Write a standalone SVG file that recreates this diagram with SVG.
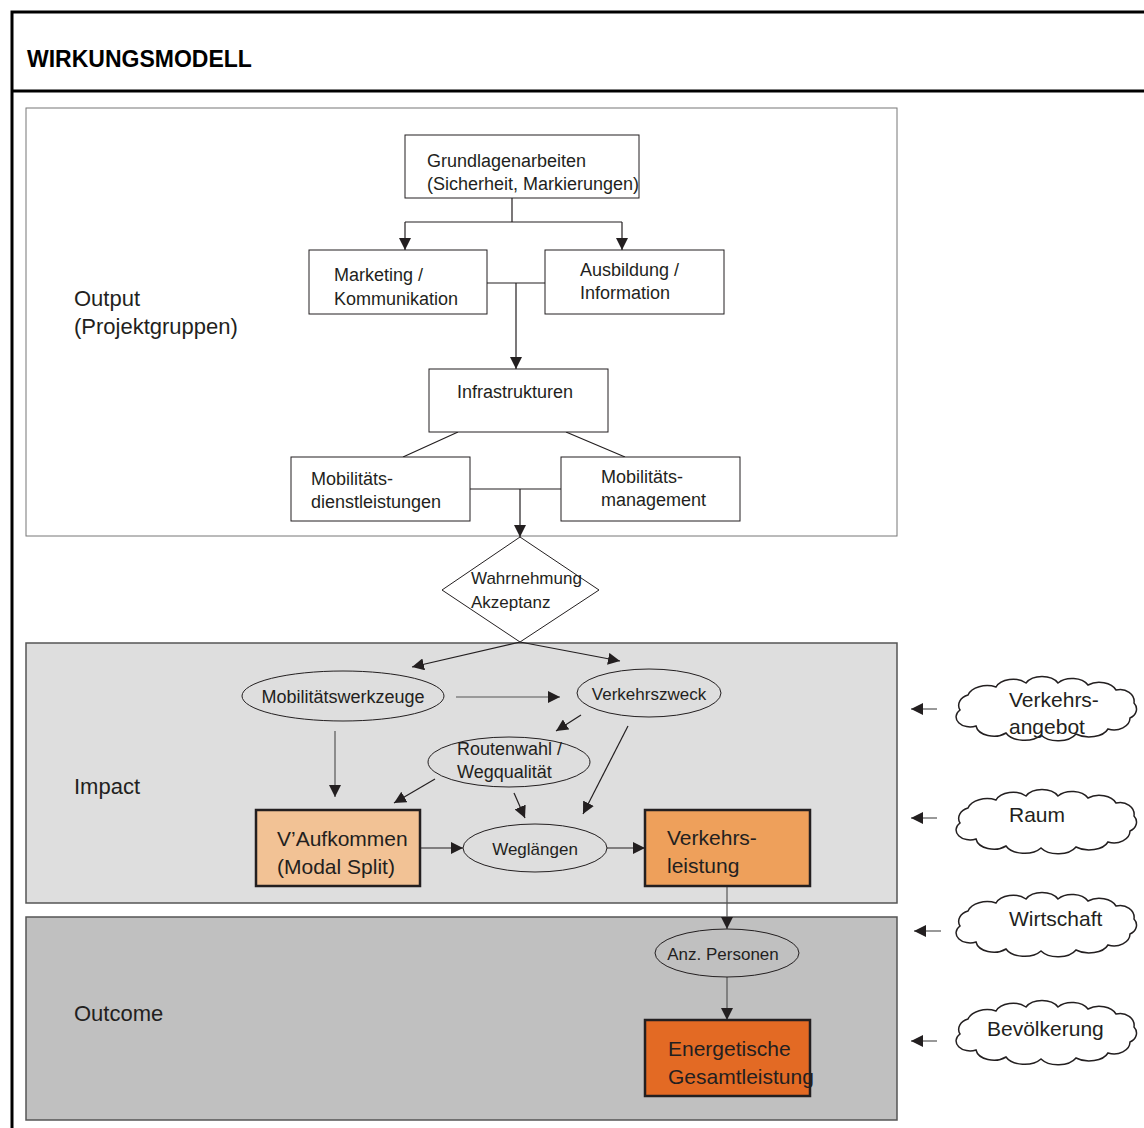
<svg xmlns="http://www.w3.org/2000/svg" width="1144" height="1128" viewBox="0 0 1144 1128">
<style>
text{font-family:"Liberation Sans",Arial,sans-serif;fill:#231f20}
.t17{font-size:17px}
.t18{font-size:18px}
.t21{font-size:21px}
.lbl{font-size:22px}
.box{fill:#fff;stroke:#231f20;stroke-width:1}
.ell{fill:none;stroke:#231f20;stroke-width:1}
.big{stroke:#231f20;stroke-width:2.5}
.cl{fill:#fff;stroke:#231f20;stroke-width:1.5}
.c{fill:none;stroke:#231f20;stroke-width:1.2}
.cg{fill:none;stroke:#555;stroke-width:1.2}
</style>
<defs>
<marker id="ah" viewBox="0 0 10 10" refX="10" refY="5" markerWidth="12" markerHeight="12" markerUnits="userSpaceOnUse" orient="auto">
<path d="M0,0 L10,5 L0,10 z" fill="#231f20"/>
</marker>
<path id="cloud" d="M-86,2 A14,11 0 0 1 -78,-13 A20,13 0 0 1 -50,-21 A18,12 0 0 1 -20,-25 A18,12 0 0 1 12,-25 A18,12 0 0 1 42,-23 A18,12 0 0 1 70,-18 A14,12 0 0 1 88,-5 A12,10 0 0 1 84,10 A16,12 0 0 1 62,21 A20,12 0 0 1 30,26 A20,12 0 0 1 -5,27 A20,12 0 0 1 -40,25 A18,12 0 0 1 -70,18 A14,10 0 0 1 -86,2 z"/>
</defs>
<rect width="1144" height="1128" fill="#fff"/>
<g id="frame">
<path d="M12,1128 V12 H1144 M12,91 H1144" fill="none" stroke="#000" stroke-width="3"/>
<text x="27" y="67" style="font-size:23px;font-weight:bold;fill:#000">WIRKUNGSMODELL</text>
</g>
<g id="panel-output">
<rect x="26" y="108" width="871" height="428" fill="#fff" stroke="#777" stroke-width="1"/>
<text class="lbl" x="74" y="306">Output</text>
<text class="lbl" x="74" y="334">(Projektgruppen)</text>
</g>
<g id="panel-impact">
<rect x="26" y="643" width="871" height="260" fill="#dedede" stroke="#555" stroke-width="1.5"/>
<text class="lbl" x="74" y="794">Impact</text>
</g>
<g id="panel-outcome">
<rect x="26" y="917" width="871" height="203" fill="#c0c0c0" stroke="#555" stroke-width="1.5"/>
<text class="lbl" x="74" y="1021">Outcome</text>
</g>
<g id="connectors">
<path class="c" d="M512,198 V222 M405,222 H622"/>
<path class="c" d="M405,222 V250" marker-end="url(#ah)"/>
<path class="c" d="M622,222 V250" marker-end="url(#ah)"/>
<path class="c" d="M487,283 H545"/>
<path class="c" d="M516,283 V369" marker-end="url(#ah)"/>
<path class="c" d="M458,432 L403,457 M566,432 L625,457"/>
<path class="c" d="M470,489 H561"/>
<path class="c" d="M520,489 V537" marker-end="url(#ah)"/>
<path class="c" d="M520,642 L412,667" marker-end="url(#ah)"/>
<path class="c" d="M520,642 L620,661" marker-end="url(#ah)"/>
<path class="cg" d="M456,697 H560" marker-end="url(#ah)"/>
<path class="cg" d="M335,731 V797" marker-end="url(#ah)"/>
<path class="c" d="M581,715 L556,731" marker-end="url(#ah)"/>
<path class="c" d="M628,726 L583,814" marker-end="url(#ah)"/>
<path class="c" d="M435,779 L394,803" marker-end="url(#ah)"/>
<path class="c" d="M514,793 L525,818" marker-end="url(#ah)"/>
<path class="c" d="M420,848 H463" marker-end="url(#ah)"/>
<path class="c" d="M607,848 H645" marker-end="url(#ah)"/>
<path class="cg" d="M727,886 V929" marker-end="url(#ah)"/>
<path class="cg" d="M727,977 V1020" marker-end="url(#ah)"/>
<path class="cg" d="M937,709 H911" marker-end="url(#ah)"/>
<path class="cg" d="M937,818 H911" marker-end="url(#ah)"/>
<path class="cg" d="M941,931 H914" marker-end="url(#ah)"/>
<path class="cg" d="M937,1041 H911" marker-end="url(#ah)"/>
</g>
<g id="n-grundlagen">
<rect class="box" x="405" y="135" width="234" height="63"/>
<text class="t18" x="427" y="167">Grundlagenarbeiten</text>
<text class="t18" x="427" y="190">(Sicherheit, Markierungen)</text>
</g>
<g id="n-marketing">
<rect class="box" x="309" y="250" width="178" height="64"/>
<text class="t18" x="334" y="281">Marketing /</text>
<text class="t18" x="334" y="305">Kommunikation</text>
</g>
<g id="n-ausbildung">
<rect class="box" x="545" y="250" width="179" height="64"/>
<text class="t18" x="580" y="276">Ausbildung /</text>
<text class="t18" x="580" y="299">Information</text>
</g>
<g id="n-infra">
<rect class="box" x="429" y="369" width="179" height="63"/>
<text class="t18" x="457" y="398">Infrastrukturen</text>
</g>
<g id="n-mobdienst">
<rect class="box" x="291" y="457" width="179" height="64"/>
<text class="t18" x="311" y="485">Mobilitäts-</text>
<text class="t18" x="311" y="508">dienstleistungen</text>
</g>
<g id="n-mobman">
<rect class="box" x="561" y="457" width="179" height="64"/>
<text class="t18" x="601" y="483">Mobilitäts-</text>
<text class="t18" x="601" y="506">management</text>
</g>
<g id="n-wahrnehmung">
<path d="M520,537 L599,590 L520,642 L442,590 z" fill="#fff" stroke="#231f20" stroke-width="1"/>
<text class="t17" x="471" y="584">Wahrnehmung</text>
<text class="t17" x="471" y="608">Akzeptanz</text>
</g>
<g id="n-mobwerk">
<ellipse class="ell" cx="343" cy="696" rx="101" ry="25"/>
<text class="t18" x="343" y="703" text-anchor="middle">Mobilitätswerkzeuge</text>
</g>
<g id="n-verkehrszweck">
<ellipse class="ell" cx="649" cy="693" rx="72" ry="24"/>
<text class="t17" x="649" y="700" text-anchor="middle">Verkehrszweck</text>
</g>
<g id="n-routenwahl">
<ellipse class="ell" cx="509" cy="762" rx="81" ry="25"/>
<text class="t18" x="457" y="755">Routenwahl /</text>
<text class="t18" x="457" y="778">Wegqualität</text>
</g>
<g id="n-weglaengen">
<ellipse class="ell" cx="535" cy="848" rx="72" ry="24"/>
<text class="t17" x="535" y="855" text-anchor="middle">Weglängen</text>
</g>
<g id="n-vaufkommen">
<rect class="big" x="256" y="810" width="164" height="76" fill="#f2c295"/>
<text class="t21" x="277" y="846">V’Aufkommen</text>
<text class="t21" x="277" y="874">(Modal Split)</text>
</g>
<g id="n-verkehrsleistung">
<rect class="big" x="645" y="810" width="165" height="76" fill="#eea05b"/>
<text class="t21" x="667" y="845">Verkehrs-</text>
<text class="t21" x="667" y="873">leistung</text>
</g>
<g id="n-anzpersonen">
<ellipse class="ell" cx="727" cy="953" rx="72" ry="24"/>
<text class="t17" x="723" y="960" text-anchor="middle">Anz. Personen</text>
</g>
<g id="n-energetische">
<rect class="big" x="645" y="1020" width="165" height="76" fill="#e36a24"/>
<text class="t21" x="668" y="1056">Energetische</text>
<text class="t21" x="668" y="1084">Gesamtleistung</text>
</g>
<g id="n-verkehrsangebot">
<use href="#cloud" class="cl" transform="translate(1046,708)"/>
<text class="t21" x="1009" y="707">Verkehrs-</text>
<text class="t21" x="1009" y="734">angebot</text>
</g>
<g id="n-raum">
<use href="#cloud" class="cl" transform="translate(1046,821)"/>
<text class="t21" x="1009" y="822">Raum</text>
</g>
<g id="n-wirtschaft">
<use href="#cloud" class="cl" transform="translate(1046,924)"/>
<text class="t21" x="1009" y="926">Wirtschaft</text>
</g>
<g id="n-bevoelkerung">
<use href="#cloud" class="cl" transform="translate(1046,1032)"/>
<text class="t21" x="987" y="1036">Bevölkerung</text>
</g>
</svg>
